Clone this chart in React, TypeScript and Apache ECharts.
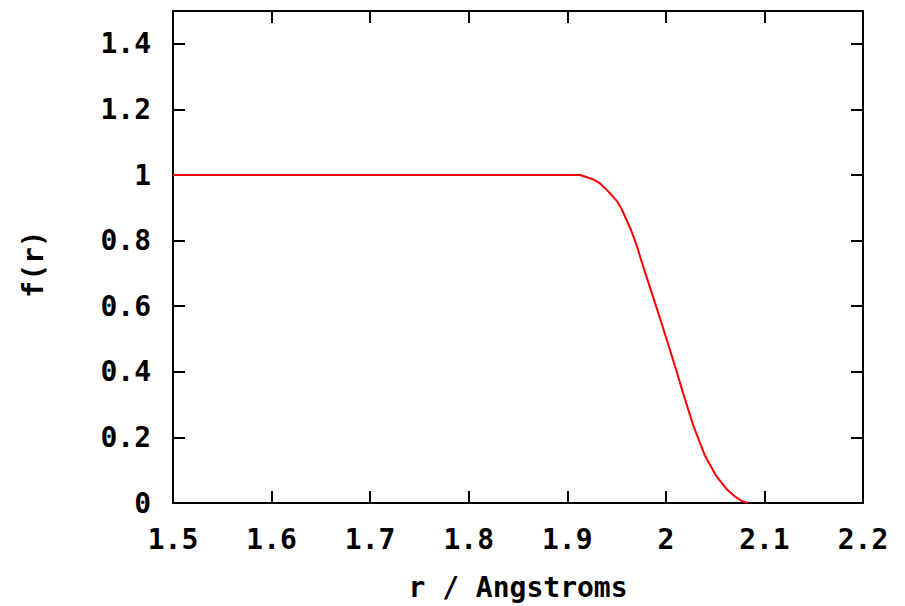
import React, { useEffect, useRef } from "react";
import * as echarts from "echarts";

const rValues = [1.5, 1.6, 1.7, 1.8, 1.9, 1.913, 1.926, 1.933, 1.9415, 1.95, 1.955, 1.965, 1.971, 1.975, 1.982, 1.989, 1.996, 2.003, 2.011, 2.0175, 2.028, 2.0395, 2.051, 2.0615, 2.07, 2.077, 2.083];
const fValues = [1, 1, 1, 1, 1, 1, 0.987, 0.975, 0.95, 0.922, 0.897, 0.83, 0.78, 0.74, 0.675, 0.61, 0.545, 0.478, 0.4, 0.335, 0.235, 0.145, 0.083, 0.043, 0.02, 0.006, 0];

const xTitle = "r / Angstroms";
const yTitle = "f(r)";

const FONT = "DejaVu Sans Mono";

export default function App() {
  const ref = useRef<HTMLDivElement>(null);
  useEffect(() => {
    if (!ref.current) return;
    const chart = echarts.init(ref.current, undefined, { renderer: "svg" });
    const labelStyle = { fontFamily: FONT, fontWeight: "bold" as const, fontSize: 28, color: "#000" };
    const axisLine = { show: true, onZero: false, lineStyle: { color: "#000", width: 2 } };
    const tick = { show: true, inside: true, length: 12, lineStyle: { color: "#000", width: 2 } };
    chart.setOption({
      animation: false,
      backgroundColor: "#fff",
      grid: { left: 173, right: 42, top: 11, bottom: 102, show: false },
      xAxis: [
        {
          type: "value", min: 1.5, max: 2.2, interval: 0.1, position: "bottom",
          axisLine, axisTick: tick, splitLine: { show: false },
          axisLabel: { ...labelStyle, margin: 22 },
          name: xTitle, nameLocation: "middle", nameGap: 70,
          nameTextStyle: { ...labelStyle },
        },
        {
          type: "value", min: 1.5, max: 2.2, interval: 0.1, position: "top",
          axisLine, axisTick: tick, splitLine: { show: false },
          axisLabel: { show: false },
        },
      ],
      yAxis: [
        {
          type: "value", min: 0, max: 1.5, interval: 0.2, position: "left",
          axisLine, axisTick: tick, splitLine: { show: false },
          axisLabel: { ...labelStyle, margin: 22, showMaxLabel: false },
          name: yTitle, nameLocation: "middle", nameGap: 126,
          nameTextStyle: { ...labelStyle, padding: [0, 14, 0, 0] },
        },
        {
          type: "value", min: 0, max: 1.5, interval: 0.2, position: "right",
          axisLine, axisTick: tick, splitLine: { show: false },
          axisLabel: { show: false },
        },
      ],
      series: [
        {
          type: "line",
          data: rValues.map((r, i) => [r, fValues[i]]),
          showSymbol: false,
          lineStyle: { color: "#ff0000", width: 2 },
          itemStyle: { color: "#ff0000" },
        },
      ],
    });
    return () => chart.dispose();
  }, []);
  return <div ref={ref} style={{ position: "fixed", left: 0, top: 0, width: 905, height: 606 }} />;
}
